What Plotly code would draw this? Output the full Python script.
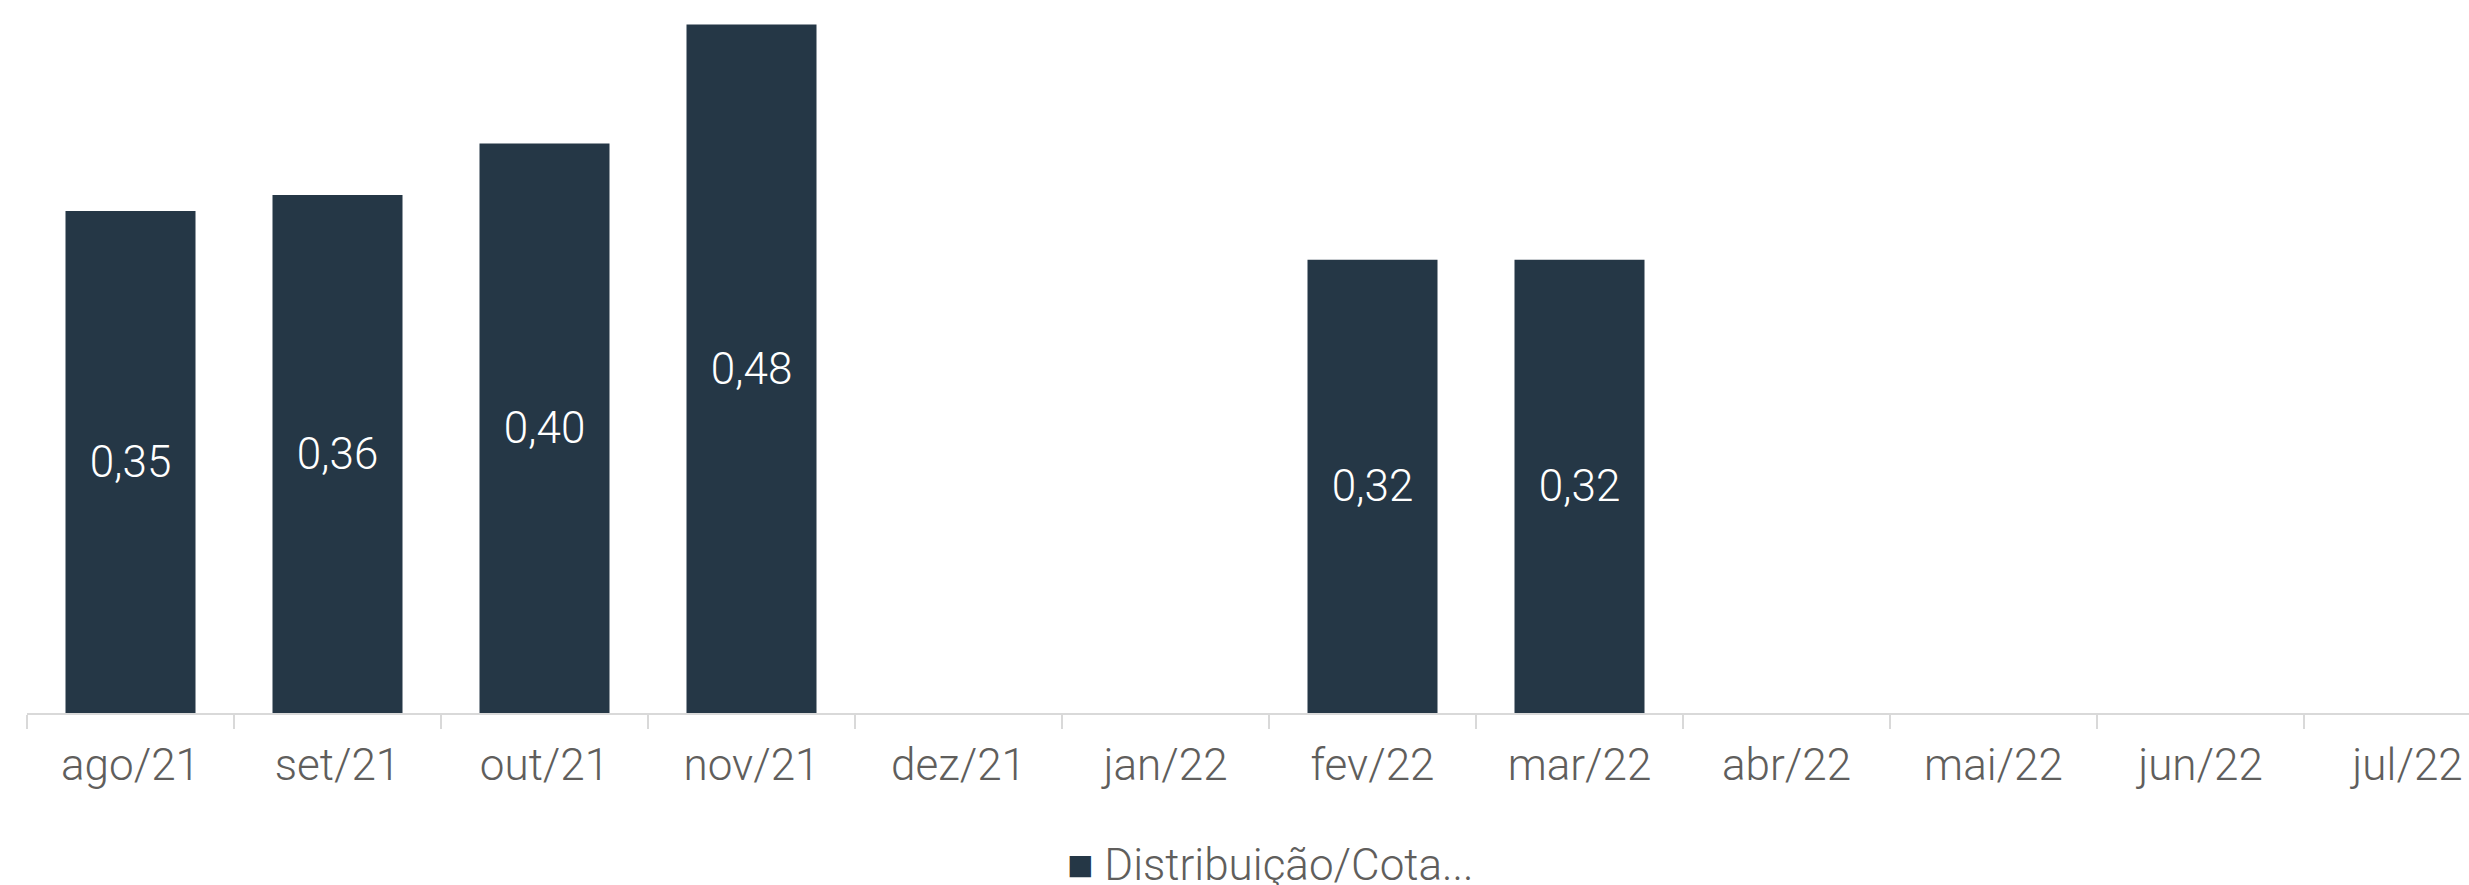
import plotly.graph_objects as go

months = ["ago/21", "set/21", "out/21", "nov/21", "dez/21", "jan/22",
          "fev/22", "mar/22", "abr/22", "mai/22", "jun/22", "jul/22"]
distribuicao = [0.35, 0.361, 0.397, 0.48, None, None,
                0.316, 0.316, None, None, None, None]
series_name = "Distribuição/Cota..."

BAR_COLOR = "#253746"
TEXT_GRAY = "#605E5C"
FONT = "Roboto, 'DejaVu Sans', sans-serif"

fig = go.Figure()
fig.add_trace(go.Bar(
    x=months,
    y=distribuicao,
    name=series_name,
    marker=dict(color=BAR_COLOR, line=dict(width=0)),
    texttemplate="%{y:.2f}",
    textposition="inside",
    insidetextanchor="middle",
    textangle=0,
    constraintext="none",
    textfont=dict(family=FONT, size=44, color="white", weight=300),
    showlegend=False,
))

W, H = 2469, 885
left, bottom = 27, 172
plot_w = W - left
plot_h = H - bottom
cat_w = 207.0

fig.update_layout(
    width=W, height=H,
    margin=dict(l=left, r=0, t=0, b=bottom, pad=0, autoexpand=False),
    paper_bgcolor="white",
    plot_bgcolor="white",
    separators=",.",
    bargap=0.372,
    font=dict(family=FONT, color=TEXT_GRAY),
    xaxis=dict(
        type="category",
        categoryorder="array",
        categoryarray=months,
        range=[-0.5, -0.5 + plot_w / cat_w],
        automargin=False,
        showline=True, linecolor="#D9D9D9", linewidth=2,
        ticks="outside", tickson="boundaries", ticklen=14,
        tickcolor="#D9D9D9", tickwidth=2,
        ticklabelstandoff=12,
        tickfont=dict(family=FONT, size=44, color=TEXT_GRAY, weight=300),
        showgrid=False, zeroline=False,
        fixedrange=True,
    ),
    yaxis=dict(
        range=[0, 0.497],
        visible=False,
        automargin=False,
        showgrid=False, zeroline=False,
        fixedrange=True,
    ),
    annotations=[dict(
        xref="paper", yref="paper",
        x=(1065 - left) / plot_w, y=-(865 - plot_h) / plot_h,
        xanchor="left", yanchor="middle",
        showarrow=False,
        text=f"<span style='color:{BAR_COLOR}'>■</span> {series_name}",
        font=dict(family=FONT, size=44, color=TEXT_GRAY, weight=300),
    )],
)

fig.write_html(
    "out.html",
    config={"displayModeBar": False},
    post_script="document.body.style.margin='0';document.body.style.overflow='hidden';",
)
